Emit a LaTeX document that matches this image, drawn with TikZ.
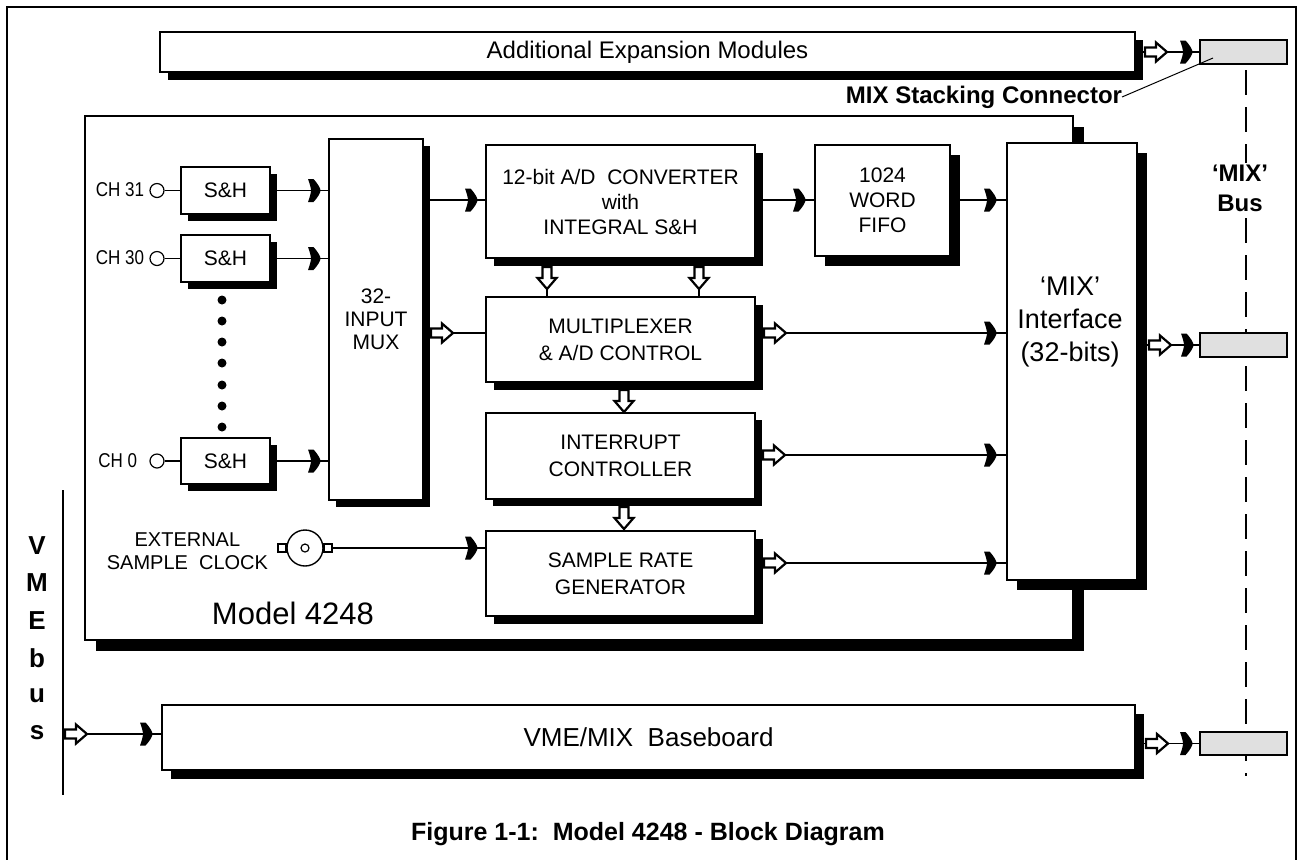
\documentclass[tikz,border=0pt]{standalone}
\usepackage{fontspec}
\setmainfont{Liberation Sans}
\newfontfamily\narrowfont{Liberation Sans}[FakeStretch=0.85]
\tikzset{
  boxst/.style={draw,fill=white,line width=0.75pt,inner sep=0pt,outer sep=0pt,align=center,font=\fontsize{10.5}{12.5}\selectfont},
  wire/.style={line width=0.75pt},
  conn/.style={draw,fill=black!12,line width=0.75pt,inner sep=0pt,outer sep=0pt,anchor=north west},
  lbl/.style={inner sep=0pt,outer sep=0pt,align=center},
  brk/.pic={\fill[black] (0,-11.5) -- (5.5,-11.5) .. controls (10.5,-6) and (12.5,-2) .. (12.5,0) .. controls (12.5,2) and (10.5,6) .. (5.5,11.5) -- (0,11.5) .. controls (2,6) and (3,2) .. (3,0) .. controls (3,-2) and (2,-6) .. (0,-11.5) -- cycle;},
  harr/.pic={\filldraw[fill=white,line width=1.1pt,line join=miter] (0,-4.5) -- (11,-4.5) -- (11,-9.5) -- (22,0) -- (11,9.5) -- (11,4.5) -- (0,4.5) -- cycle;},
  varr/.pic={\filldraw[fill=white,line width=1.1pt,line join=miter] (-4.5,0) -- (-4.5,11) -- (-9.5,11) -- (0,22) -- (9.5,11) -- (4.5,11) -- (4.5,0) -- cycle;},
}
\newcommand{\blk}[8][]{%
  \fill[black] ({#3+#7},{#4+#7}) rectangle ({#5+#7},{#6+#7});
  \node[boxst,anchor=north west,minimum width={(#5-#3)*0.5pt},minimum height={(#6-#4)*0.5pt},#1] (#2) at (#3,#4) {#8};}
\begin{document}
\begin{tikzpicture}[x=0.5pt,y=-0.5pt]
\useasboundingbox (0,0) rectangle (1299,859);
\draw[line width=1pt] (7,860) -- (7,7) -- (1296,7) -- (1296,860);

% dashed MIX bus line
\coordinate (dtop) at (1246,70);
\coordinate (dbot) at (1246,776);
\draw[line width=1.2pt,dash pattern=on 12.5pt off 6pt] (dtop) -- (dbot);

% boxes
\blk[font=\fontsize{12}{14}\selectfont]{addm}{160}{32}{1135}{72}{8}{Additional Expansion Modules}
\blk{model}{85}{116}{1073}{640}{11}{}
\blk[font=\fontsize{10.5}{13}\selectfont]{sh31}{181}{167}{270}{214}{7}{S\&H}
\blk[font=\fontsize{10.5}{13}\selectfont]{sh30}{181}{235}{270}{282}{7}{S\&H}
\blk[font=\fontsize{10.5}{13}\selectfont]{sh0}{181}{438}{270}{484}{7}{S\&H}
\blk[font=\fontsize{10.5}{11.5}\selectfont]{mux}{329}{139}{423}{500}{7}{32-\\INPUT\\MUX}
\blk{ad}{486}{145}{755}{258}{8}{12-bit A/D\ \ CONVERTER\\with\\INTEGRAL S\&H}
\blk{fifo}{815}{145}{950}{256}{10}{1024\\WORD\\FIFO}
\blk[font=\fontsize{10.5}{13.5}\selectfont]{mult}{486}{297}{755}{382}{8}{MULTIPLEXER\\\& A/D CONTROL}
\blk[font=\fontsize{10.5}{13.5}\selectfont]{intc}{486}{413}{755}{499}{7}{INTERRUPT\\CONTROLLER}
\blk[font=\fontsize{10.5}{13.5}\selectfont]{srg}{486}{531}{755}{616}{8}{SAMPLE RATE\\GENERATOR}
\blk{iface}{1007}{143}{1137}{580}{10}{}
\node[lbl,font=\fontsize{13.5}{16.5}\selectfont] (ifacet) at (1070,322) {`MIX'\\Interface\\(32-bits)};
\blk[font=\fontsize{13}{15}\selectfont]{base}{162}{705}{1135}{770}{9}{VME/MIX\ \ Baseboard}

% stacking connectors
\node[conn,minimum width=43.5pt,minimum height=12pt] (cn1) at (1200,40) {};
\node[conn,minimum width=43.5pt,minimum height=12pt] (cn2) at (1200,333) {};
\node[conn,minimum width=43.5pt,minimum height=11.5pt] (cn3) at (1200,732) {};

% channel inputs
\node[lbl,anchor=east,font=\narrowfont\fontsize{10}{11}\selectfont] (l31) at (144,190) {CH 31};
\node[lbl,anchor=east,font=\narrowfont\fontsize{10}{11}\selectfont] (l30) at (144,258) {CH 30};
\node[lbl,anchor=east,font=\narrowfont\fontsize{10}{11}\selectfont] (l0) at (137,461) {CH 0};
\node[draw,circle,minimum size=7pt,inner sep=0pt,line width=0.6pt] (c31) at (157,190.5) {};
\node[draw,circle,minimum size=7pt,inner sep=0pt,line width=0.6pt] (c30) at (157,258.5) {};
\node[draw,circle,minimum size=7pt,inner sep=0pt,line width=0.6pt] (c0) at (157,461) {};
\draw[wire] (c31.east) -- (sh31.west);
\draw[wire] (c30.east) -- (sh30.west);
\draw[wire] (c0.east) -- (sh0.west);
\draw[wire] (sh31.east) -- (sh31.east -| mux.west);
\draw[wire] (sh30.east) -- (sh30.east -| mux.west);
\draw[wire] (sh0.east) -- (sh0.east -| mux.west);
\pic at (308,190.5) {brk};
\pic at (308,258.5) {brk};
\pic at (308,461) {brk};
\foreach \yy in {300,321,342,363,385,406,427} \fill (222,\yy) circle (4.5);

% row A/D
\coordinate (ra) at (0,200);
\draw[wire] (mux.east |- ra) -- (ad.west |- ra);
\pic at (465,200) {brk};
\draw[wire] (ad.east |- ra) -- (fifo.west |- ra);
\pic at (793,200) {brk};
\draw[wire] (fifo.east |- ra) -- (iface.west |- ra);
\pic at (984,200) {brk};

% row multiplexer
\coordinate (rb) at (0,333);
\draw[wire] (mux.east |- rb) -- (mult.west |- rb);
\pic at (431,333) {harr};
\draw[wire] (mult.east |- rb) -- (iface.west |- rb);
\pic at (764,333) {harr};
\pic at (984,333) {brk};

% row interrupt
\coordinate (rc) at (0,455);
\draw[wire] (intc.east |- rc) -- (iface.west |- rc);
\pic at (763,455) {harr};
\pic at (984,455) {brk};

% row sample rate
\coordinate (rd) at (0,563);
\draw[wire] (srg.east |- rd) -- (iface.west |- rd);
\pic at (764,563) {harr};
\pic at (984,563) {brk};

% vertical arrows
\coordinate (xa) at (547,0);
\coordinate (xb) at (699,0);
\coordinate (xc) at (624,0);
\draw[wire] (ad.south -| xa) -- (mult.north -| xa);
\draw[wire] (ad.south -| xb) -- (mult.north -| xb);
\draw[wire] (mult.south -| xc) -- (intc.north -| xc);
\draw[wire] (intc.south -| xc) -- (srg.north -| xc);
\pic at (547,267) {varr};
\pic at (699,267) {varr};
\pic at (624,390) {varr};
\pic at (624,507) {varr};

% external clock
\node[lbl,anchor=east,font=\fontsize{10}{11.5}\selectfont] (ext) at (268,551) {EXTERNAL\\SAMPLE\ \ CLOCK};
\node[draw,circle,minimum size=18pt,inner sep=0pt,line width=0.7pt] (bnc) at (305,548) {};
\node[draw,circle,minimum size=4pt,inner sep=0pt,line width=0.6pt] (bncin) at (305,548) {};
\node[draw,fill=white,minimum size=4pt,inner sep=0pt,line width=0.6pt] (bncl) at (282,548) {};
\node[draw,fill=white,minimum size=4pt,inner sep=0pt,line width=0.6pt] (bncr) at (328,548) {};
\draw[wire] (bncr.east) -- (srg.west |- bncr.east);
\pic at (465,548) {brk};

\node[lbl,font=\fontsize{15.5}{18}\selectfont] (mname) at (293,613) {Model 4248};

% VMEbus
\coordinate (vt) at (63,490);
\coordinate (vb) at (63,795);
\draw[line width=1pt] (vt) -- (vb);
\foreach \ch/\yy [count=\i] in {V/545.5,M/583,E/620.5,b/658,u/695.5,s/733}
  \node[lbl,font=\bfseries\fontsize{13}{14}\selectfont] (vme\i) at (37,\yy) {\ch};
\coordinate (vx) at (63,734);
\draw[wire] (vx) -- (base.west |- vx);
\pic at (65,734) {harr};
\pic at (140,734) {brk};

% right side connections to stacking connectors
\draw[wire] (addm.east |- cn1.west) -- (cn1.west);
\pic at (1145,52) {harr};
\pic at (1180,52) {brk};
\draw[wire] (iface.east |- cn2.west) -- (cn2.west);
\pic at (1149,345) {harr};
\pic at (1181,345) {brk};
\draw[wire] (base.east |- cn3.west) -- (cn3.west);
\pic at (1146,743.5) {harr};
\pic at (1180,743.5) {brk};

% labels
\node[lbl,anchor=east,font=\bfseries\fontsize{12}{14}\selectfont] (msc) at (1122,97) {MIX Stacking Connector};
\coordinate (mscend) at (1213,58);
\draw[line width=0.5pt] (msc.east) -- (mscend);
\node[lbl,fill=white,inner sep=1pt,font=\bfseries\fontsize{12}{15}\selectfont] (mixbus) at (1240,188) {`MIX'\\Bus};
\node[lbl,font=\bfseries\fontsize{12.5}{14}\selectfont] (cap) at (648,834) {Figure 1-1:\ \ Model 4248 - Block Diagram};
\end{tikzpicture}
\end{document}
